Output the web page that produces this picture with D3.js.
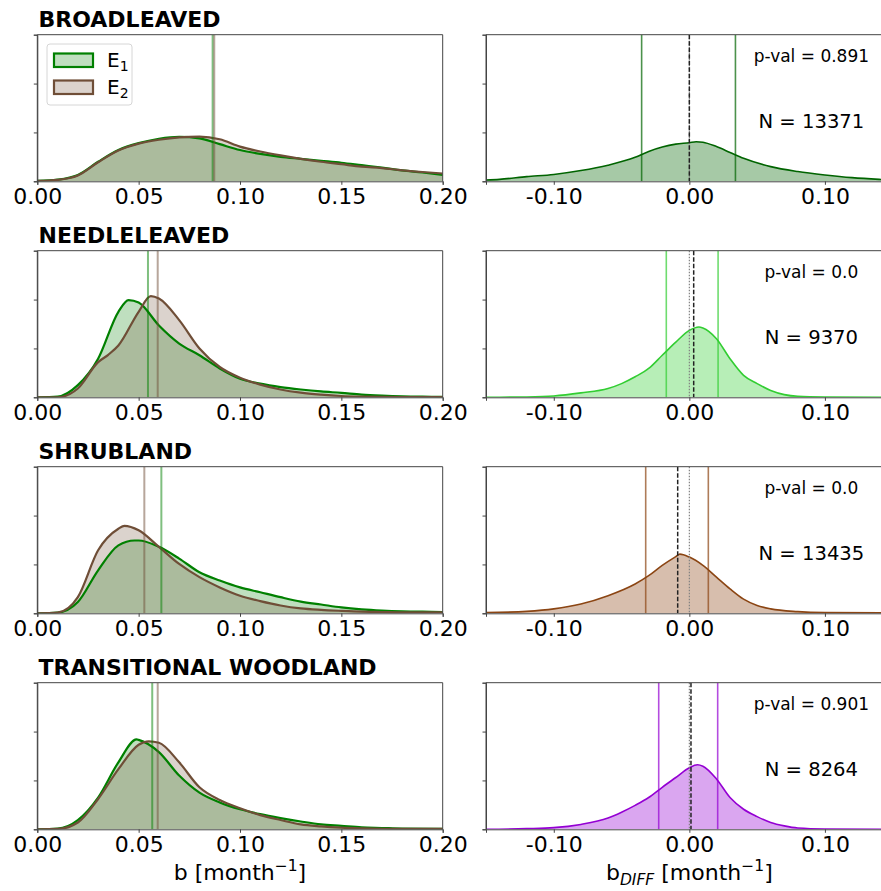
<!DOCTYPE html>
<html>
<head>
<meta charset="utf-8">
<script src="https://cdn.jsdelivr.net/npm/d3@7"></script>
<style>
  html, body { margin: 0; padding: 0; background: #fff; }
  svg { display: block; font-family: "DejaVu Sans", sans-serif; }
</style>
</head>
<body>
<svg id="chart" width="881" height="891"></svg>
<script>
// Land-cover classes, one row each
const classTitles = ["BROADLEAVED", "NEEDLELEAVED", "SHRUBLAND", "TRANSITIONAL WOODLAND"];

// KDE of b [month^-1] for the two estimates, [b, density]
const broadE1 = [[0,0.07],[0.01,0.34],[0.02,1.3],[0.03,4.0],[0.04,6.4],[0.05,7.8],[0.06,8.7],[0.07,9.1],[0.08,8.8],[0.09,7.6],[0.10,6.4],[0.11,5.6],[0.12,5.0],[0.13,4.6],[0.14,4.2],[0.15,3.8],[0.16,3.3],[0.17,2.8],[0.18,2.25],[0.19,1.8],[0.20,1.3]];
const broadE2 = [[0,0.07],[0.01,0.3],[0.02,1.2],[0.03,3.9],[0.04,6.3],[0.05,7.7],[0.06,8.5],[0.07,9.0],[0.08,9.15],[0.09,8.6],[0.10,7.1],[0.11,6.1],[0.12,5.3],[0.13,4.6],[0.14,4.0],[0.15,3.5],[0.16,3.0],[0.17,2.7],[0.18,2.25],[0.19,1.9],[0.20,1.6]];
const needleE1 = [[0,0],[0.01,0.14],[0.02,2.5],[0.03,7.9],[0.04,17.5],[0.045,19.9],[0.05,19.4],[0.06,14.7],[0.07,11.0],[0.08,8.6],[0.09,5.9],[0.10,3.8],[0.11,2.8],[0.12,2.1],[0.13,1.6],[0.14,1.2],[0.15,0.9],[0.16,0.55],[0.17,0.34],[0.18,0.2],[0.19,0.14],[0.20,0.07]];
const needleE2 = [[0,0],[0.01,0],[0.02,1.8],[0.03,7.2],[0.035,8.7],[0.04,10.6],[0.05,17.5],[0.056,20.7],[0.06,20.2],[0.07,15.8],[0.08,10.0],[0.09,6.2],[0.10,4.0],[0.11,2.6],[0.12,1.6],[0.13,0.95],[0.14,0.55],[0.15,0.27],[0.16,0.14],[0.18,0.05],[0.20,0.05]];
const shrubE1 = [[0,0],[0.01,0.14],[0.02,2.3],[0.03,8.8],[0.04,13.9],[0.048,14.9],[0.05,14.9],[0.06,13.6],[0.07,11.2],[0.08,8.4],[0.09,6.7],[0.10,5.3],[0.11,4.3],[0.12,3.3],[0.13,2.4],[0.14,1.8],[0.15,1.2],[0.16,0.8],[0.17,0.55],[0.18,0.4],[0.19,0.34],[0.20,0.27]];
const shrubE2 = [[0,0],[0.01,0.14],[0.02,3.3],[0.03,12.9],[0.04,17.3],[0.043,17.9],[0.05,17.0],[0.06,13.6],[0.07,10.1],[0.08,7.4],[0.09,5.3],[0.10,3.6],[0.11,2.5],[0.12,1.6],[0.13,1.0],[0.14,0.7],[0.15,0.5],[0.16,0.34],[0.17,0.27],[0.18,0.2],[0.20,0.2]];
const transE1 = [[0,0],[0.01,0.14],[0.02,1.9],[0.03,6.5],[0.04,13.7],[0.049,18.4],[0.05,18.3],[0.06,15.8],[0.07,11.0],[0.08,7.5],[0.09,5.5],[0.10,4.1],[0.11,3.1],[0.12,2.3],[0.13,1.6],[0.14,1.0],[0.15,0.7],[0.16,0.4],[0.17,0.27],[0.18,0.14],[0.20,0.07]];
const transE2 = [[0,0],[0.01,0.07],[0.02,1.4],[0.03,6.2],[0.04,12.3],[0.05,17.3],[0.055,18.0],[0.06,17.7],[0.07,13.7],[0.08,8.6],[0.09,6.0],[0.10,4.3],[0.11,2.9],[0.12,1.9],[0.13,1.0],[0.14,0.6],[0.15,0.34],[0.16,0.2],[0.18,0.07],[0.20,0.07]];

// Mean b of each estimate
const e1Means = [0.0865, 0.0546, 0.0612, 0.0567];
const e2Means = [0.0873, 0.0594, 0.0528, 0.0594];

// KDE of the paired difference b_DIFF, [b_DIFF, density]
const broadDiff = [[-0.15,0.27],[-0.14,0.4],[-0.12,0.95],[-0.10,1.4],[-0.08,2.2],[-0.06,3.3],[-0.04,4.9],[-0.03,6.1],[-0.02,7.0],[-0.01,7.6],[0,7.9],[0.005,8.1],[0.01,8.0],[0.02,7.1],[0.03,5.9],[0.04,4.7],[0.06,3.0],[0.08,2.0],[0.10,1.3],[0.12,0.75],[0.14,0.4],[0.15,0.27]];
const needleDiff = [[-0.15,0],[-0.12,0.07],[-0.10,0.27],[-0.08,0.9],[-0.06,1.8],[-0.05,2.8],[-0.04,4.2],[-0.03,5.9],[-0.02,8.6],[-0.01,11.3],[0,13.7],[0.007,14.4],[0.01,14.2],[0.02,12.0],[0.03,7.9],[0.04,4.5],[0.05,2.8],[0.06,1.4],[0.07,0.55],[0.08,0.2],[0.10,0.07],[0.15,0]];
const shrubDiff = [[-0.15,0.14],[-0.12,0.4],[-0.10,0.9],[-0.08,1.9],[-0.06,3.6],[-0.04,6.0],[-0.03,7.7],[-0.02,9.8],[-0.01,11.6],[-0.007,12.1],[0,11.5],[0.01,9.8],[0.02,7.4],[0.03,5.0],[0.04,2.9],[0.05,1.6],[0.06,0.9],[0.08,0.34],[0.10,0.14],[0.15,0.07]];
const transDiff = [[-0.15,0],[-0.12,0.14],[-0.10,0.34],[-0.08,1.0],[-0.06,2.3],[-0.05,3.5],[-0.04,4.9],[-0.03,6.5],[-0.02,8.6],[-0.01,10.6],[0,12.6],[0.006,13.2],[0.01,12.9],[0.02,10.3],[0.03,6.5],[0.04,4.1],[0.05,2.6],[0.06,1.4],[0.07,0.7],[0.08,0.27],[0.10,0.07],[0.15,0]];

// Interval bounds, mean difference, test results
const diffLow = [-0.0352, -0.0170, -0.0322, -0.0226];
const diffHigh = [0.0340, 0.0212, 0.0140, 0.0209];
const diffMean = [0.0, 0.0032, -0.0086, 0.0012];
const pValues = ["0.891", "0.0", "0.0", "0.901"];
const sampleN = [13371, 9370, 13435, 8264];
const diffColors = ["#006400", "#32cd32", "#8b4513", "#9400d3"];

const bTicks = [0.00, 0.05, 0.10, 0.15, 0.20];
const diffTicks = [-0.10, 0.00, 0.10];
const densityTicks = [0, 10, 20, 30];

const e1Curves = [broadE1, needleE1, shrubE1, transE1];
const e2Curves = [broadE2, needleE2, shrubE2, transE2];
const diffCurves = [broadDiff, needleDiff, shrubDiff, transDiff];

const e1Color = "#008000", e2Color = "#6f4e37";

const svg = d3.select("#chart");
const rowTop0 = 34.7, rowStep = 216, panelH = 146.6;
const leftX = [37.3, 442.7], rightX = [486, 892.7];

const xB = d3.scaleLinear().domain([0, 0.2]).range(leftX);
const xD = d3.scaleLinear().domain([-0.15, 0.15]).range(rightX);
// plain hyphen for negative tick values
const fmt = v => d3.format(".2f")(v).replace("\u2212", "-");

const defs = svg.append("defs");

classTitles.forEach((title, i) => {
  const top = rowTop0 + i * rowStep;
  const y = d3.scaleLinear().domain([0, 30]).range([top + panelH, top]);

  // ----- left panel: b distributions -----
  const clipL = "clipL" + i;
  defs.append("clipPath").attr("id", clipL).append("rect")
    .attr("x", leftX[0]).attr("y", top).attr("width", leftX[1] - leftX[0]).attr("height", panelH);
  const gL = svg.append("g").attr("clip-path", `url(#${clipL})`);
  const area = d3.area().x(d => xB(d[0])).y0(y(0)).y1(d => y(d[1])).curve(d3.curveMonotoneX);
  const line = d3.line().x(d => xB(d[0])).y(d => y(d[1])).curve(d3.curveMonotoneX);

  gL.append("path").datum(e1Curves[i]).attr("d", area).attr("fill", e1Color).attr("fill-opacity", 0.25);
  gL.append("path").datum(e2Curves[i]).attr("d", area).attr("fill", e2Color).attr("fill-opacity", 0.25);
  gL.append("path").datum(e1Curves[i]).attr("d", line).attr("fill", "none").attr("stroke", e1Color).attr("stroke-width", 2.2);
  gL.append("path").datum(e2Curves[i]).attr("d", line).attr("fill", "none").attr("stroke", e2Color).attr("stroke-width", 2.2);

  gL.append("line").attr("x1", xB(e1Means[i])).attr("x2", xB(e1Means[i]))
    .attr("y1", top).attr("y2", top + panelH).attr("stroke", e1Color).attr("stroke-opacity", 0.5).attr("stroke-width", 2);
  gL.append("line").attr("x1", xB(e2Means[i])).attr("x2", xB(e2Means[i]))
    .attr("y1", top).attr("y2", top + panelH).attr("stroke", e2Color).attr("stroke-opacity", 0.5).attr("stroke-width", 2);

  drawFrame(leftX, top, true);
  const axL = svg.append("g").attr("transform", `translate(0,${top + panelH})`)
    .call(d3.axisBottom(xB).tickValues(bTicks).tickFormat(fmt).tickSize(3.5).tickPadding(3.5));
  styleAxis(axL);
  const ayL = svg.append("g").attr("transform", `translate(${leftX[0]},0)`)
    .call(d3.axisLeft(y).tickValues(densityTicks).tickFormat("").tickSize(3.5));
  styleAxis(ayL);

  svg.append("text").attr("x", 38.5).attr("y", top - 8)
    .attr("font-weight", "bold").attr("font-size", 22)
    .attr("fill", "#000").text(title);

  // ----- right panel: paired difference -----
  const clipR = "clipR" + i;
  defs.append("clipPath").attr("id", clipR).append("rect")
    .attr("x", rightX[0]).attr("y", top).attr("width", rightX[1] - rightX[0]).attr("height", panelH);
  const gR = svg.append("g").attr("clip-path", `url(#${clipR})`);
  const col = diffColors[i];
  const areaD = d3.area().x(d => xD(d[0])).y0(y(0)).y1(d => y(d[1])).curve(d3.curveMonotoneX);
  const lineD = d3.line().x(d => xD(d[0])).y(d => y(d[1])).curve(d3.curveMonotoneX);
  gR.append("path").datum(diffCurves[i]).attr("d", areaD).attr("fill", col).attr("fill-opacity", 0.35);
  gR.append("path").datum(diffCurves[i]).attr("d", lineD).attr("fill", "none").attr("stroke", col).attr("stroke-width", 1.6);

  [diffLow[i], diffHigh[i]].forEach(v => {
    gR.append("line").attr("x1", xD(v)).attr("x2", xD(v)).attr("y1", top).attr("y2", top + panelH)
      .attr("stroke", col).attr("stroke-opacity", 0.7).attr("stroke-width", 1.6);
  });
  gR.append("line").attr("x1", xD(0)).attr("x2", xD(0)).attr("y1", top).attr("y2", top + panelH)
    .attr("stroke", "#808080").attr("stroke-width", 1.2).attr("stroke-dasharray", "1.5,1.5");
  gR.append("line").attr("x1", xD(diffMean[i])).attr("x2", xD(diffMean[i])).attr("y1", top).attr("y2", top + panelH)
    .attr("stroke", "#222").attr("stroke-width", 1.5).attr("stroke-dasharray", "4.5,2");

  drawFrame(rightX, top, false);
  const axR = svg.append("g").attr("transform", `translate(0,${top + panelH})`)
    .call(d3.axisBottom(xD).tickValues(diffTicks).tickFormat(fmt).tickSize(3.5).tickPadding(3.5));
  styleAxis(axR);
  const ayR = svg.append("g").attr("transform", `translate(${rightX[0]},0)`)
    .call(d3.axisLeft(y).tickValues(densityTicks).tickFormat("").tickSize(3.5));
  styleAxis(ayR);

  const cx = rightX[0] + 0.8 * (rightX[1] - rightX[0]);
  svg.append("text").attr("x", cx).attr("y", top + 27.5).attr("text-anchor", "middle")
    .attr("font-size", 17).attr("fill", "#000").text("p-val = " + pValues[i]);
  svg.append("text").attr("x", cx).attr("y", top + 93.5).attr("text-anchor", "middle")
    .attr("font-size", 19.6).attr("fill", "#000").text("N = " + sampleN[i]);
});

function drawFrame(xr, top, closed) {
  const g = svg.append("g").attr("fill", "none").attr("stroke", "#444").attr("stroke-width", 1);
  g.append("line").attr("x1", xr[0]).attr("x2", xr[1]).attr("y1", top).attr("y2", top);
  g.append("line").attr("x1", xr[0]).attr("x2", xr[0]).attr("y1", top).attr("y2", top + panelH);
  if (closed) g.append("line").attr("x1", xr[1]).attr("x2", xr[1]).attr("y1", top).attr("y2", top + panelH);
}

function styleAxis(g) {
  g.select(".domain").attr("stroke", "#444").attr("stroke-width", 1);
  g.selectAll(".tick line").attr("stroke", "#444");
  g.selectAll(".tick text").attr("font-size", 22).attr("fill", "#000").attr("font-family", "DejaVu Sans");
}

// Legend in the first left panel
const leg = svg.append("g");
leg.append("rect").attr("x", 47).attr("y", 44).attr("width", 85).attr("height", 61).attr("rx", 3)
  .attr("fill", "#fff").attr("fill-opacity", 0.8).attr("stroke", "#d6d6d6").attr("stroke-width", 1);
[["E", "1", e1Color], ["E", "2", e2Color]].forEach((d, k) => {
  const yy = 53.5 + k * 27;
  leg.append("rect").attr("x", 54).attr("y", yy).attr("width", 39).attr("height", 13.5)
    .attr("fill", d[2]).attr("fill-opacity", 0.25).attr("stroke", d[2]).attr("stroke-width", 2.2);
  const t = leg.append("text").attr("x", 107).attr("y", yy + 13.6).attr("font-size", 20).attr("fill", "#000");
  t.append("tspan").text(d[0]);
  t.append("tspan").attr("dy", 4).attr("font-size", 14).text(d[1]);
});

// Axis titles
const bLabel = svg.append("text").attr("x", (leftX[0] + leftX[1]) / 2).attr("y", 880)
  .attr("text-anchor", "middle").attr("font-size", 22).attr("fill", "#000");
bLabel.append("tspan").text("b [month");
bLabel.append("tspan").attr("dy", -9).attr("font-size", 15.5).text("\u22121");
bLabel.append("tspan").attr("dy", 9).text("]");

const dLabel = svg.append("text").attr("x", (rightX[0] + rightX[1]) / 2).attr("y", 880)
  .attr("text-anchor", "middle").attr("font-size", 22).attr("fill", "#000");
dLabel.append("tspan").text("b");
dLabel.append("tspan").attr("dy", 4.5).attr("font-size", 15.5).attr("font-style", "italic").text("DIFF");
dLabel.append("tspan").attr("dy", -4.5).text(" [month");
dLabel.append("tspan").attr("dy", -9).attr("font-size", 15.5).text("\u22121");
dLabel.append("tspan").attr("dy", 9).text("]");
</script>
</body>
</html>
